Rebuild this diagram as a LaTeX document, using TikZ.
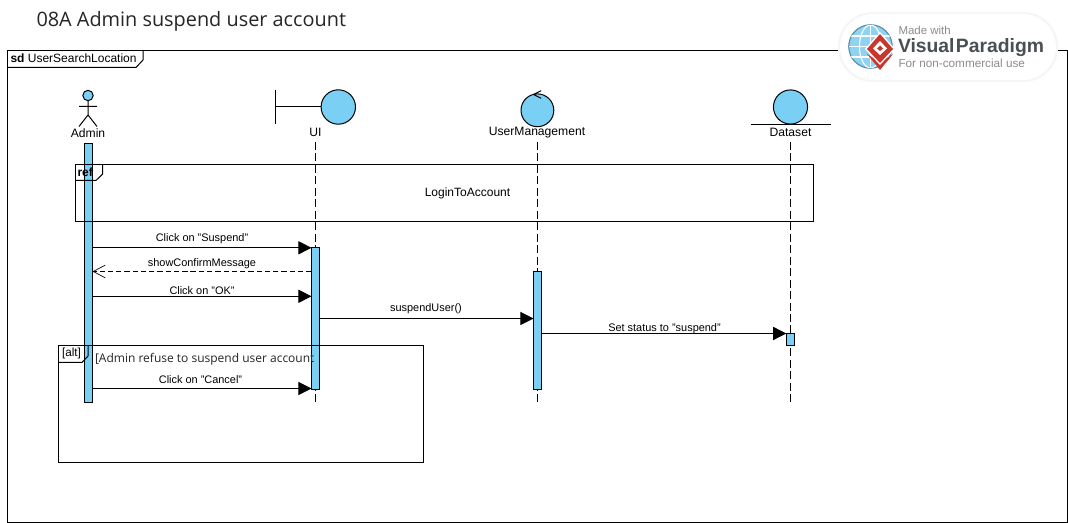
\documentclass[tikz,border=0pt]{standalone}
\usepackage{fontspec}
\setmainfont{Liberation Sans}
\newfontfamily\opensans{Open Sans}
\usetikzlibrary{arrows.meta,shapes.geometric}
\definecolor{vpblue}{HTML}{7ACFF5}
\definecolor{vpred}{HTML}{C8372D}
\definecolor{vpgray}{HTML}{8C8C8C}
\definecolor{vpdark}{HTML}{4A4F55}
\definecolor{globeblue}{HTML}{8FD3F2}
\definecolor{globeline}{HTML}{5B93AE}
\tikzset{
  lbl/.style={inner sep=0pt,outer sep=0pt,font=\fontsize{9.1pt}{11pt}\selectfont},
  msg/.style={inner sep=0pt,outer sep=0pt,font=\fontsize{8.2pt}{10pt}\selectfont},
  framebox/.style={draw=black,fill=none},
  actbar/.style={draw=black,fill=vpblue,rectangle,inner sep=0pt,outer sep=0pt,minimum width=6pt},
  robust/.style={draw=black,fill=vpblue},
  lifeline/.style={draw=black,dash pattern=on 6pt off 2.6pt},
  call/.style={draw=black,-{Triangle[length=9.8pt,width=9.8pt]}},
  reply/.style={draw=black,dash pattern=on 4pt off 2.2pt,-{Straight Barb[length=9pt,width=9.5pt,line width=0.5pt]}},
}
\begin{document}
\begin{tikzpicture}[x=0.75pt,y=-0.75pt,line width=0.75pt]
\useasboundingbox (0,0) rectangle (1068,523);
\fill[white] (0,0) rectangle (1068,523);

% title
\node[anchor=west,inner sep=0pt,font=\opensans\fontsize{14.9pt}{18pt}\selectfont,text=black!85] (title) at (36,21) {08A Admin suspend user account};

% outer frame
\draw[framebox] (7.5,50.5) rectangle (1067.5,522.5);
\draw[framebox] (7.5,67.5) -- (136,67.5) -- (143,60) -- (143,50.5);
\node[anchor=west,lbl,font=\fontsize{9pt}{11pt}\selectfont] (sd) at (10.5,58.5) {\textbf{sd} UserSearchLocation};

% logo
\fill[black!4,rounded corners=26pt] (838,12) rectangle (1058,82);
\fill[white,rounded corners=25pt] (840,14) rectangle (1056,80);
\filldraw[fill=globeblue,draw=globeline,line width=0.9pt] (870.5,46.5) circle[radius=16.3pt];
\begin{scope}
\clip (870.5,46.5) circle[radius=16.3pt];
\draw[white,line width=0.8pt] (870.5,25) -- (870.5,68) (849,36) -- (892,36) (849,46.5) -- (892,46.5) (849,57) -- (892,57);
\draw[white,line width=0.8pt] (870.5,46.5) ellipse[x radius=11,y radius=21.5];
\end{scope}
\fill[vpred] (867,54) -- (880,70) -- (893,54) -- (880,62) -- cycle;
\fill[white] (880,32) -- (895,49) -- (880,65) -- (865,49) -- cycle;
\fill[vpred] (880,34) -- (893,49) -- (880,63) -- (867,49) -- cycle;
\fill[white] (880,41) -- (887,48.5) -- (880,55) -- (873,48.5) -- cycle;
\fill[vpred] (880,45.5) -- (883,48.5) -- (880,51) -- (877,48.5) -- cycle;
\node[anchor=west,inner sep=0pt,text=vpgray,font=\fontsize{8.6pt}{10pt}\selectfont] (made) at (898,30.5) {Made with};
\node[anchor=west,inner sep=0pt,text=vpdark,font=\bfseries\fontsize{14.5pt}{16pt}\selectfont] (vp) at (897.5,47.5) {Visual\kern1pt Paradigm};
\node[anchor=west,inner sep=0pt,text=vpgray,font=\fontsize{8.8pt}{10pt}\selectfont] (noncom) at (898,63) {For non-commercial use};

% actor Admin
\filldraw[robust] (88,95.5) circle[radius=3.9pt];
\draw (88,100.8) -- (88,115) (79,106.5) -- (97,106.5) (79,126.5) -- (88,115) -- (97,126.5);
\node[lbl] (admin) at (88,133) {Admin};

% boundary UI
\node[circle,robust,inner sep=0pt,outer sep=0pt,minimum size=25.8pt] (uic) at (338.3,107) {};
\coordinate (uib) at (275.5,107);
\draw (uic.west) -- (uib);
\draw (275.5,90) -- (275.5,124);
\node[lbl] (ui) at (315.5,132.5) {UI};

% control UserManagement
\node[circle,robust,inner sep=0pt,outer sep=0pt,minimum size=24.6pt] (umc) at (537.4,110.3) {};
\draw (541.2,90.7) -- (533.5,94.5) -- (541.2,98.3);
\node[lbl] (um) at (537,133) {UserManagement};

% entity Dataset
\node[circle,robust,inner sep=0pt,outer sep=0pt,minimum size=25.6pt] (dsc) at (790.5,107) {};
\draw (750.7,124.4) -- (830.6,124.4);
\node[lbl] (ds) at (790.5,132.5) {Dataset};

% lifelines
\coordinate (lstop) at (0,142);
\coordinate (lsend) at (0,403);
\coordinate (ulx) at (315.5,0);
\coordinate (mlx) at (537.5,0);
\coordinate (dlx) at (790.5,0);
\draw[lifeline] (ulx |- lstop) -- (ulx |- lsend);
\draw[lifeline] (mlx |- lstop) -- (mlx |- lsend);
\draw[lifeline] (dlx |- lstop) -- (dlx |- lsend);

% activation bars
\node[actbar,minimum height=194.6pt] (abar) at (88.5,273) {};
\node[actbar,minimum height=106.4pt] (ubar) at (315.5,318.3) {};
\node[actbar,minimum height=88.5pt] (mbar) at (537.5,330.3) {};
\node[actbar,minimum height=9pt] (dbar) at (790.3,339.5) {};

% ref fragment
\draw[framebox] (75.5,164.5) rectangle (813.5,221.5);
\draw[framebox] (75.5,180.5) -- (96,180.5) -- (102.7,174) -- (102.7,164.5);
\node[anchor=west,lbl,font=\bfseries\fontsize{9pt}{11pt}\selectfont] (reftag) at (77.5,172) {ref};
\node[msg,font=\fontsize{9pt}{11pt}\selectfont] (reflabel) at (467.5,193) {LoginToAccount};

% alt fragment
\draw[framebox] (58.5,345.5) rectangle (423.5,462.5);
\draw[framebox] (58.5,362.5) -- (82,362.5) -- (88,356) -- (88,345.5);
\node[anchor=west,lbl,font=\fontsize{8.8pt}{10pt}\selectfont] (alttag) at (62,353.5) {[alt]};
\node[anchor=west,inner sep=0pt,font=\opensans\fontsize{9pt}{11pt}\selectfont,text=black!85] (guard) at (94.5,359.5) {[Admin refuse to suspend user account};

% messages
\coordinate (y1) at (0,247.8);
\coordinate (y2) at (0,271.5);
\coordinate (y3) at (0,296.3);
\coordinate (y4) at (0,318.5);
\coordinate (y5) at (0,333.5);
\coordinate (y6) at (0,388.5);
\draw[call] (abar.east |- y1) -- (ubar.west |- y1);
\draw[reply] (ubar.west |- y2) -- (abar.east |- y2);
\draw[call] (abar.east |- y3) -- (ubar.west |- y3);
\draw[call] (ubar.east |- y4) -- (mbar.west |- y4);
\draw[call] (mbar.east |- y5) -- (dbar.west |- y5);
\draw[call] (abar.east |- y6) -- (ubar.west |- y6);

\node[msg] (l1) at (202,238.5) {Click on "Suspend"};
\node[msg] (l2) at (202,263.5) {showConfirmMessage};
\node[msg] (l3) at (202,291) {Click on "OK"};
\node[msg] (l4) at (426,309) {suspendUser()};
\node[msg] (l5) at (664.5,329) {Set status to "suspend"};
\node[msg] (l6) at (200.5,380) {Click on "Cancel"};
\end{tikzpicture}
\end{document}
